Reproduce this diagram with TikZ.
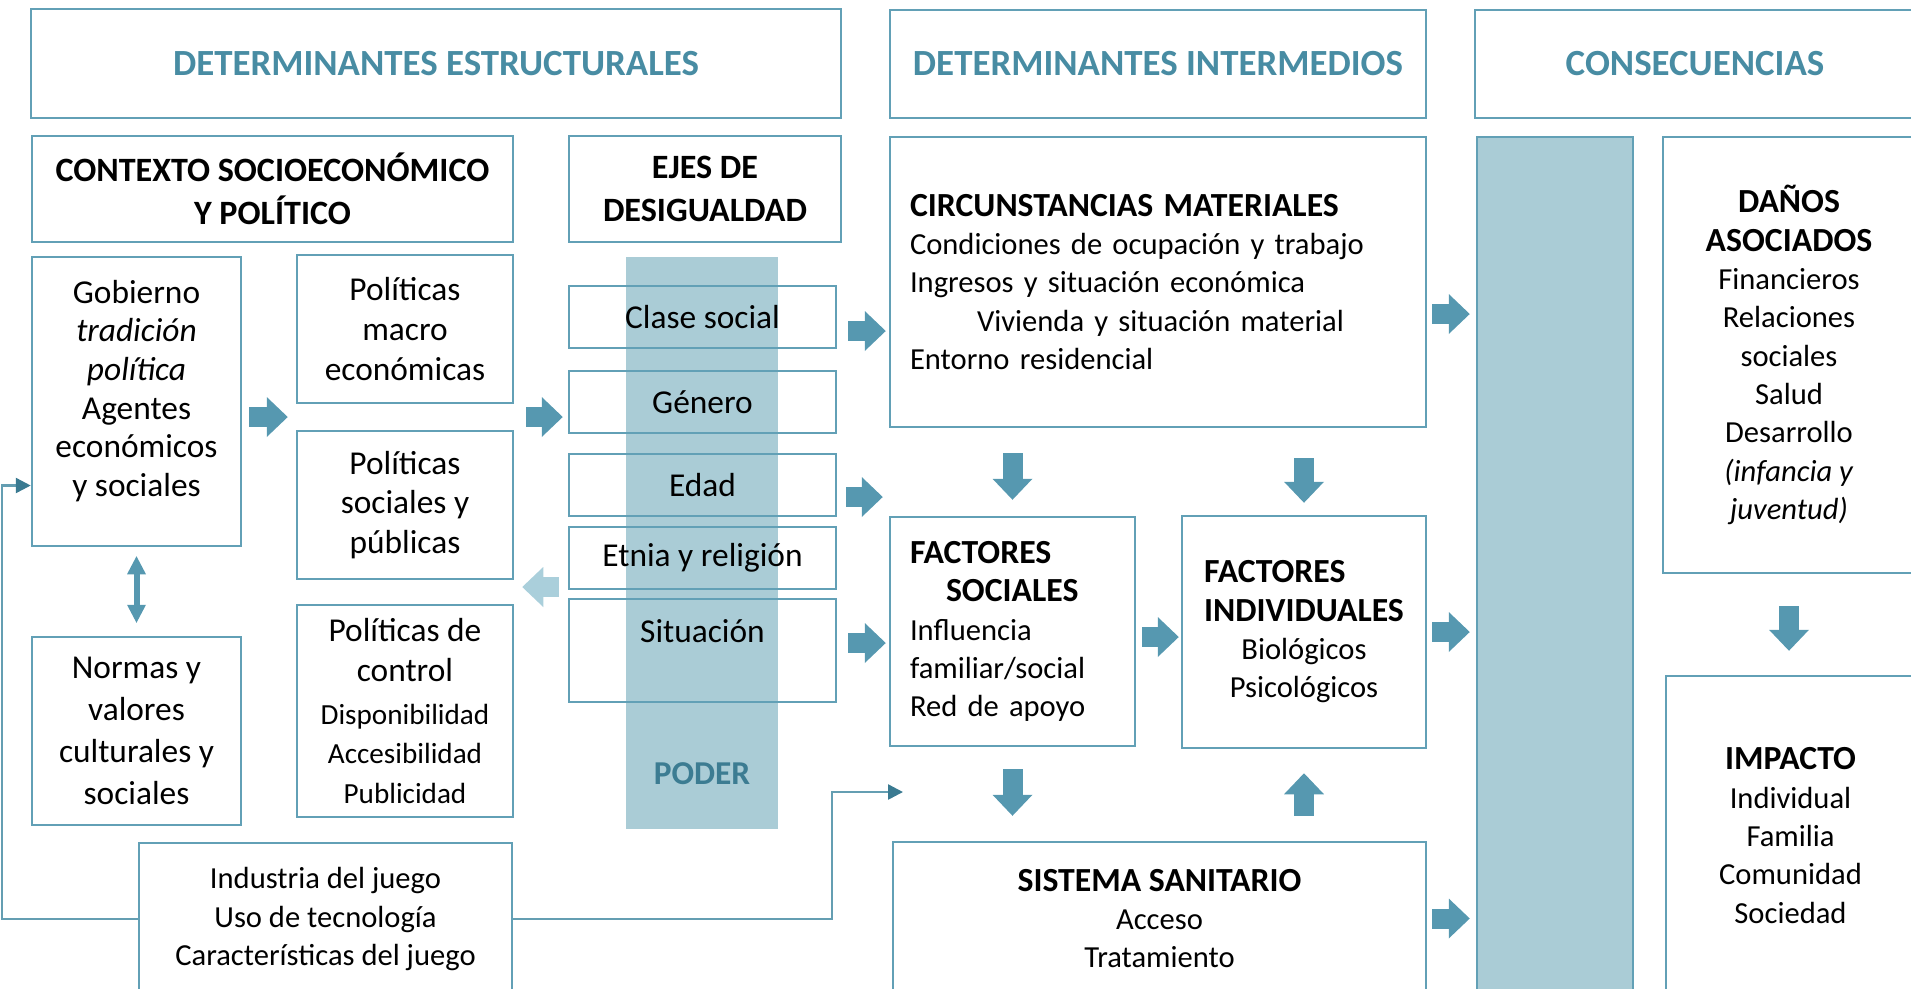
\documentclass[tikz,border=0pt]{standalone}
\usepackage{fontspec}
\setmainfont{Carlito}
\usetikzlibrary{arrows.meta,calc}

\definecolor{boxcol}{RGB}{98,160,182}
\definecolor{headcol}{RGB}{72,140,163}
\definecolor{arrcol}{RGB}{86,152,176}
\definecolor{barcol}{RGB}{170,204,214}
\definecolor{lightarr}{RGB}{170,207,219}
\definecolor{podercol}{RGB}{60,124,146}
\definecolor{linecol}{RGB}{100,158,178}
\definecolor{tipcol}{RGB}{58,122,145}

\newcommand\szL{\fontsize{9.5}{11.3}\selectfont}
\newcommand\szR{\fontsize{8.7}{10.9}\selectfont}
\newcommand\szS{\fontsize{8.3}{10.2}\selectfont}
\newcommand\szT{\fontsize{9.6}{11.5}\selectfont}

\begin{document}
\begin{tikzpicture}[x=0.1mm,y=-0.1mm,
  box/.style={draw=boxcol,line width=0.25mm,inner sep=0pt,align=center},
  headbox/.style={box,font=\fontsize{10.5}{12}\selectfont\bfseries,text=headcol},
  titlebox/.style={box,font=\fontsize{9.7}{12.2}\selectfont\bfseries},
  leftbox/.style={box,font=\szL},
  rightbox/.style={box,font=\szR},
  ejebox/.style={box,font=\szL,minimum width=26.7mm,minimum height=6.2mm},
  blockarr/.style={draw=arrcol,line width=2mm,-{Triangle[length=2.1mm,width=4mm,line width=0pt]}},
  thinarr/.style={draw=linecol,line width=0.25mm,-{Triangle[length=1.5mm,width=1.5mm,color=tipcol]}}]

  \useasboundingbox (0,0) rectangle (1911,988);
  \clip (0,0) rectangle (1911,988);

% column headers
  \node[headbox,minimum width=81mm,minimum height=10.9mm] (estr) at (436,63.5) {DETERMINANTES ESTRUCTURALES};
  \node[headbox,minimum width=53.6mm,minimum height=10.8mm] (inter) at (1158,64) {DETERMINANTES INTERMEDIOS};
  \node[headbox,minimum width=44mm,minimum height=10.8mm] (conse) at (1695,64) {CONSECUENCIAS};

% structural determinants
  \node[titlebox,minimum width=48.1mm,minimum height=10.6mm] (ctx) at (272.5,189) {CONTEXTO SOCIOECONÓMICO\\Y POLÍTICO};
  \node[titlebox,minimum width=27.2mm,minimum height=10.6mm] (ejes) at (705,189) {EJES DE\\DESIGUALDAD};
  \node[leftbox,font=\fontsize{9.5}{11}\selectfont,minimum width=20.9mm,minimum height=28.9mm] (gob) at (136.5,401.5) {Gobierno\\\textit{tradición}\\\textit{política}\\Agentes\\económicos\\y sociales\\[-1.2mm]\mbox{}};
  \node[leftbox,font=\fontsize{9.5}{11.9}\selectfont,minimum width=20.9mm,minimum height=18.8mm] (normas) at (136.5,731) {Normas y\\valores\\culturales y\\sociales};
  \node[leftbox,minimum width=21.6mm,minimum height=14.8mm] (macro) at (405,329) {Políticas\\macro\\económicas};
  \node[leftbox,minimum width=21.6mm,minimum height=14.8mm] (social) at (405,505) {Políticas\\sociales y\\públicas};
  \node[leftbox,minimum width=21.6mm,minimum height=21.2mm] (control) at (405,711) {Políticas de\\control\\[0.3mm]{\szS Disponibilidad}\\{\szS Accesibilidad}\\{\szS Publicidad}};
  \node[rightbox,minimum width=37.3mm,minimum height=15.2mm] (ind) at (325.5,919) {Industria del juego\\Uso de tecnología\\Características del juego};

% axes of inequality over the power bar
  \node[fill=barcol,inner sep=0pt,minimum width=15.2mm,minimum height=57.2mm] (poder) at (702,543) {};
  \node[font=\szL\bfseries,text=podercol] (poderlbl) at ([yshift=5.6mm]poder.south) {PODER};
  \node[ejebox] (clase) at (702.5,317) {Clase social};
  \node[ejebox] (genero) at (702.5,402) {Género};
  \node[ejebox] (edad) at (702.5,485) {Edad};
  \node[ejebox] (etnia) at (702.5,558) {Etnia y religión};
  \node[ejebox,minimum height=10.3mm] (sit) at (702.5,650.5) {};
  \node[font=\szL] (sitlbl) at ([yshift=-3.3mm]sit.north) {Situación};

% intermediate determinants
  \node[rightbox,align=left,text width=49.6mm,inner xsep=2mm,minimum height=29mm] (circ) at (1158,282)
    {{\bfseries\szT CIRCUNSTANCIAS MATERIALES}\\Condiciones de ocupación y trabajo\\Ingresos y situación económica\\\hspace*{6.7mm}Vivienda y situación material\\Entorno residencial};
  \node[rightbox,align=left,text width=20.5mm,inner xsep=2mm,minimum height=22.9mm] (fs) at (1012.5,631.5)
    {{\bfseries\szT FACTORES}\\{\bfseries\szT\hspace*{3.6mm}SOCIALES}\\Influencia\\familiar/social\\Red de apoyo};
  \node[rightbox,minimum width=24.4mm,minimum height=23.2mm] (fi) at (1304,632)
    {{\bfseries\szT\rlap{FACTORES}\phantom{INDIVIDUALES}}\\{\bfseries\szT INDIVIDUALES}\\Biológicos\\Psicológicos};
  \node[rightbox,minimum width=53.3mm,minimum height=15.3mm] (sis) at (1159.5,918.5) {{\bfseries\szT SISTEMA SANITARIO}\\Acceso\\Tratamiento};

% consequences
  \node[draw=boxcol,line width=0.25mm,fill=barcol,inner sep=0pt,minimum width=15.6mm,minimum height=85.8mm] (col) at (1555,566) {};
  \node[rightbox,minimum width=25.2mm,minimum height=43.6mm] (danos) at (1789,355)
    {{\bfseries\szT DAÑOS}\\{\bfseries\szT ASOCIADOS}\\Financieros\\Relaciones\\sociales\\Salud\\Desarrollo\\\textit{(infancia y}\\\textit{juventud)}};
  \node[rightbox,minimum width=24.9mm,minimum height=31.9mm] (imp) at (1790.5,835.5) {{\bfseries\szT IMPACTO}\\Individual\\Familia\\Comunidad\\Sociedad};

% block arrows
  \coordinate (polgap) at ($(macro.south west)!0.5!(social.north west)$);
  \coordinate (polgapR) at ($(macro.south east)!0.5!(social.north east)$);
  \draw[blockarr,shorten <=0.7mm,shorten >=0.8mm] (gob.east |- polgap) -- (polgap);
  \draw[blockarr,shorten <=1.2mm,shorten >=0.5mm] (polgapR) -- (genero.west |- polgapR);
  \coordinate (c1) at ([yshift=-1.4mm]clase.east);
  \draw[blockarr,shorten <=1.1mm,shorten >=0.3mm] (c1) -- (c1 -| circ.west);
  \coordinate (c2) at ([yshift=-1.2mm]edad.east);
  \draw[blockarr,shorten <=0.9mm,shorten >=0.6mm] (c2) -- (c2 -| fs.west);
  \coordinate (c3) at ([yshift=0.75mm]sit.east);
  \draw[blockarr,shorten <=1.1mm,shorten >=0.3mm] (c3) -- (c3 -| fs.west);
  \coordinate (c4) at ([yshift=-2.9mm]etnia.west);
  \draw[blockarr,draw=lightarr,shorten <=0.9mm,shorten >=0.8mm] (c4) -- (c4 -| social.east);
  \coordinate (c5) at ([yshift=-3.2mm]circ.east);
  \draw[blockarr,shorten <=0.5mm,shorten >=0.6mm] (c5) -- (c5 -| col.west);
  \draw[blockarr,shorten <=0.5mm,shorten >=0.6mm] (fi.east) -- (fi.east -| col.west);
  \draw[blockarr,shorten <=0.5mm,shorten >=0.6mm] (sis.east) -- (sis.east -| col.west);
  \coordinate (c6) at ([yshift=-0.55mm]fs.east);
  \draw[blockarr,shorten <=0.6mm,shorten >=0.2mm] (c6) -- (c6 -| fi.west);
  \draw[blockarr,shorten <=2.5mm,shorten >=1.6mm] (fs.north |- circ.south) -- (fs.north);
  \draw[blockarr,shorten <=3mm,shorten >=1.2mm] (fi.north |- circ.south) -- (fi.north);
  \draw[blockarr,shorten <=2.2mm,shorten >=2.5mm] (fs.south) -- (fs.south |- sis.north);
  \draw[blockarr,shorten <=2.5mm,shorten >=2.4mm] (fi.south |- sis.north) -- (fi.south);
  \draw[blockarr,shorten <=3.2mm,shorten >=2.4mm] (danos.south) -- (danos.south |- imp.north);
  \draw[draw=arrcol,line width=0.6mm,{Triangle[length=1.8mm,width=1.9mm,line width=0pt]}-{Triangle[length=1.8mm,width=1.9mm,line width=0pt]},shorten <=0.9mm,shorten >=1.3mm] (gob.south) -- (normas.north);

% thin links from the gambling industry
  \draw[thinarr] (ind.west) -- ++(-13.6mm,0) |- ([yshift=-8.4mm]gob.west);
  \coordinate (hsbend) at (832,792);
  \coordinate (hsin) at (903,792);
  \draw[thinarr] (ind.east) -| (hsbend) -- (hsin);
\end{tikzpicture}
\end{document}
